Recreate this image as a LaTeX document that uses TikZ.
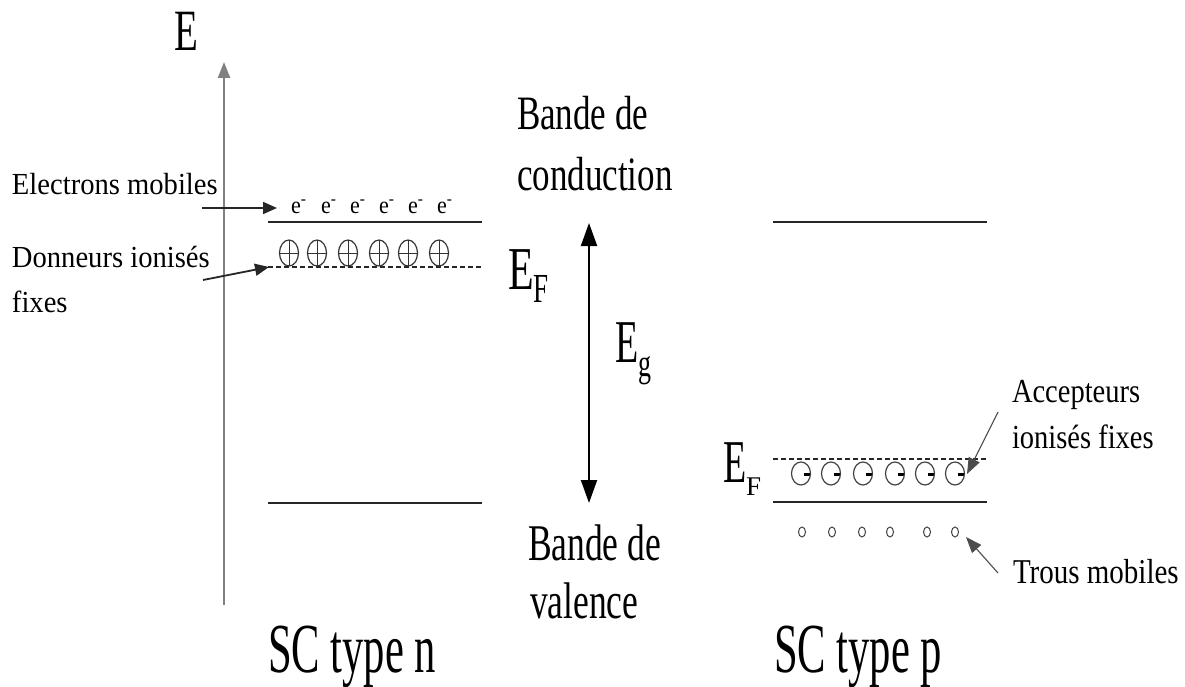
\documentclass[tikz,border=0pt]{standalone}
\usepackage{fontspec}
\setmainfont{Liberation Serif}
\usepackage{graphicx}
\usetikzlibrary{arrows.meta,shapes.geometric}

% vertically stretched text, baseline kept
\newcommand{\tallbox}[2]{\scalebox{1}[#1]{#2}}

\begin{document}
\begin{tikzpicture}[x=1pt,y=-1pt,
  txt/.style={inner sep=0pt, outer sep=0pt, anchor=base west},
  small/.style={txt, font=\fontsize{28.6pt}{30pt}\selectfont},
  band/.style={txt, font=\fontsize{35pt}{36pt}\selectfont},
  title/.style={txt, font=\fontsize{42.6pt}{44pt}\selectfont},
  elec/.style={txt, font=\fontsize{22pt}{22pt}\selectfont},
  level/.style={draw=black!85, line width=2.2pt},
  impurity/.style={draw=black!85, line width=1.3pt, dash pattern=on 5pt off 3pt},
  pointer/.style={draw=black!85, line width=1.8pt, -{Triangle[length=14pt,width=12pt]}},
  thinpointer/.style={draw=black!70, line width=1.1pt, -{Triangle[length=16pt,width=12pt]}},
  donor/.style={ellipse, draw=black!80, line width=1.2pt, inner sep=0pt,
    minimum width=19pt, minimum height=26pt,
    path picture={
      \draw[black!80, line width=1pt] (path picture bounding box.north) -- (path picture bounding box.south);
      \draw[black!80, line width=1pt] (path picture bounding box.west) -- (path picture bounding box.east);}},
  acceptor/.style={ellipse, draw=black!75, line width=1.2pt, inner sep=0pt,
    minimum width=19pt, minimum height=23pt,
    path picture={
      \draw[black, line width=2.4pt] ([xshift=2.5pt,yshift=-1pt]path picture bounding box.center) -- ++(6,0);}},
  hole/.style={ellipse, draw=black!75, line width=1pt, inner sep=0pt,
    minimum width=7pt, minimum height=10pt}
]
\useasboundingbox (0,0) rectangle (1185,687);

% ---------- energy axis ----------
\coordinate (axbot) at (224,605);
\coordinate (axtop) at (224,62);
\draw[black!50, line width=2.4pt, -{Triangle[length=16pt,width=12pt]}] (axbot) -- (axtop);
\node[txt, font=\fontsize{39pt}{40pt}\selectfont] (E) at (174,51) {\tallbox{1.5}{E}};

% ---------- n-type semiconductor ----------
\coordinate (cn1) at (268,222); \coordinate (cn2) at (482,222);
\coordinate (dn1) at (268,267); \coordinate (dn2) at (482,267);
\coordinate (vn1) at (268,503); \coordinate (vn2) at (482,503);
\draw[level] (cn1) -- (cn2);
\draw[impurity] (dn1) -- (dn2);
\draw[level] (vn1) -- (vn2);

\foreach \i/\x in {1/291,2/321,3/350,4/379,5/408,6/437}
  \node[elec] (e\i) at (\x,213) {\tallbox{1.1}{e\textsuperscript{-}}};
\foreach \i/\x in {1/289,2/317,3/348,4/379,5/408,6/439}
  \node[donor] (d\i) at (\x,253) {};

\node[small] (lblel) at (12,195) {\tallbox{1.07}{Electrons mobiles}};
\node[small] (lbldo1) at (12,267) {\tallbox{1.07}{Donneurs ionisés}};
\node[small] (lbldo2) at (12,312) {\tallbox{1.07}{fixes}};

\coordinate (elfrom) at (202,208); \coordinate (elto) at (277,208);
\coordinate (dofrom) at (203,280); \coordinate (doto) at (269,267);
\draw[pointer] (elfrom) -- (elto);
\draw[pointer] (dofrom) -- (doto);

\node[txt] (EFn) at (508,289) {{\fontsize{42pt}{42pt}\selectfont\tallbox{1.45}{E}}\raisebox{-13pt}{\fontsize{27pt}{27pt}\selectfont\tallbox{1.53}{F}}};
\node[title] (SCn) at (268,672) {\tallbox{1.65}{SC type n}};

% ---------- gap ----------
\node[band] (bc1) at (517,130) {\tallbox{1.37}{Bande de}};
\node[band] (bc2) at (517,190) {\tallbox{1.37}{conduction}};
\node[band, font=\fontsize{35.5pt}{36pt}\selectfont] (bv1) at (528,560) {\tallbox{1.45}{Bande de}};
\node[band, font=\fontsize{35.5pt}{36pt}\selectfont] (bv2) at (530,618) {\tallbox{1.45}{valence}};

\coordinate (gaptop) at (589,223);
\coordinate (gapbot) at (589,503);
\draw[black, line width=2pt, {Triangle[length=23pt,width=16pt]}-{Triangle[length=23pt,width=16pt]}] (gaptop) -- (gapbot);
\node[txt] (Eg) at (615,362) {{\fontsize{38pt}{38pt}\selectfont\tallbox{1.6}{E}}\raisebox{-14pt}{\fontsize{26pt}{26pt}\selectfont\tallbox{1.5}{g}}};

% ---------- p-type semiconductor ----------
\coordinate (cp1) at (773,222); \coordinate (cp2) at (987,222);
\coordinate (ap1) at (773,459); \coordinate (ap2) at (987,459);
\coordinate (vp1) at (773,502); \coordinate (vp2) at (987,502);
\draw[level] (cp1) -- (cp2);
\draw[impurity] (ap1) -- (ap2);
\draw[level] (vp1) -- (vp2);

\foreach \i/\x in {1/801,2/831,3/863,4/895,5/925,6/955}
  \node[acceptor] (a\i) at (\x,473.5) {};
\foreach \i/\x in {1/802,2/832,3/862,4/890,5/927,6/955}
  \node[hole] (h\i) at (\x,532) {};

\node[txt] (EFp) at (723,482) {{\fontsize{38pt}{38pt}\selectfont\tallbox{1.6}{E}}\raisebox{-13pt}{\fontsize{27pt}{27pt}\selectfont\tallbox{1.0}{F}}};

\node[small, font=\fontsize{28.5pt}{30pt}\selectfont] (lblac1) at (1012,402) {\tallbox{1.18}{Accepteurs}};
\node[small, font=\fontsize{28.5pt}{30pt}\selectfont] (lblac2) at (1012,448) {\tallbox{1.18}{ionisés fixes}};
\node[small, font=\fontsize{29pt}{30pt}\selectfont] (lbltr) at (1013,583) {\tallbox{1.2}{Trous mobiles}};

\coordinate (acfrom) at (998,412); \coordinate (acto) at (967,474);
\coordinate (trfrom) at (998,573); \coordinate (trto) at (966,537);
\draw[thinpointer] (acfrom) -- (acto);
\draw[thinpointer] (trfrom) -- (trto);

\node[title] (SCp) at (774,672) {\tallbox{1.65}{SC type p}};
\end{tikzpicture}
\end{document}
